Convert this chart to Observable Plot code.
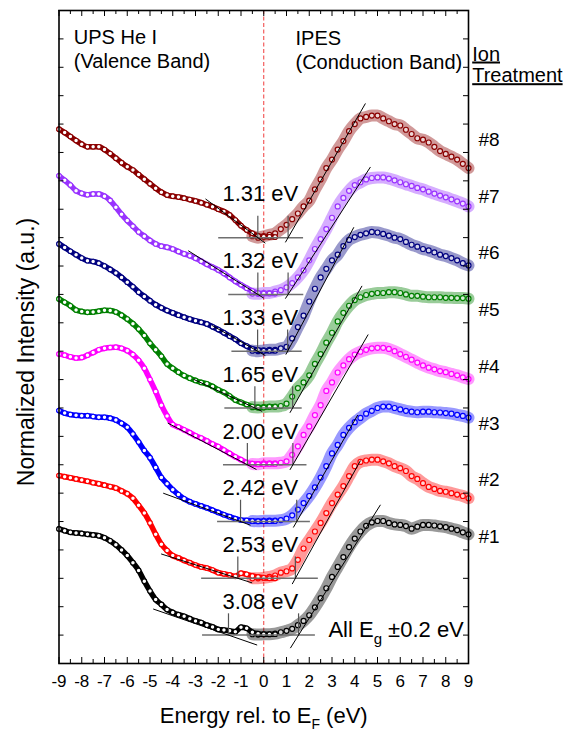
<!DOCTYPE html>
<html><head><meta charset="utf-8">
<script src="https://cdn.jsdelivr.net/npm/d3@7"></script>
<script src="https://cdn.jsdelivr.net/npm/@observablehq/plot@0.6"></script>
<style>
html,body{margin:0;padding:0;background:#fff;}
#chart{width:572px;height:732px;}
</style></head><body><div id="chart"></div>
<script>
// Energy grids (eV rel. to E_F)
const valenceE = [-9,-8.75,-8.5,-8.25,-8,-7.75,-7.5,-7.25,-7,-6.75,-6.5,-6.25,-6,-5.75,-5.5,-5.25,-5,-4.75,-4.5,-4.25,-4,-3.75,-3.5,-3.25,-3,-2.75,-2.5,-2.25,-2,-1.75,-1.5,-1.25,-1,-0.75,-0.5,-0.25,0,0.25,0.5];
const conductionE = [-0.5,-0.25,0,0.25,0.5,0.75,1,1.25,1.5,1.75,2,2.25,2.5,2.75,3,3.25,3.5,3.75,4,4.25,4.5,4.75,5,5.25,5.5,5.75,6,6.25,6.5,6.75,7,7.25,7.5,7.75,8,8.25,8.5,8.75,9];

// UPS (valence band) normalized intensities, offset stacked (#1..#8)
const vb1 = [4.74,4.68,4.62,4.60,4.58,4.55,4.53,4.50,4.43,4.32,4.18,4.00,3.80,3.55,3.28,2.90,2.55,2.25,2.08,1.90,1.80,1.72,1.66,1.58,1.50,1.44,1.35,1.29,1.20,1.18,1.15,1.12,1.28,1.24,1.10,1.05,1.03,1.03,1.03];
const vb2 = [6.62,6.58,6.54,6.50,6.46,6.42,6.37,6.33,6.28,6.23,6.18,6.08,5.98,5.82,5.57,5.30,4.95,4.55,4.20,3.98,3.80,3.72,3.63,3.55,3.47,3.40,3.36,3.29,3.20,3.16,3.12,3.07,3.18,3.14,3.08,3.05,3.02,3.00,3.00];
const vb3 = [8.91,8.82,8.77,8.74,8.73,8.73,8.70,8.67,8.67,8.64,8.58,8.46,8.32,8.08,7.80,7.50,7.25,6.90,6.55,6.33,6.12,5.95,5.80,5.70,5.62,5.55,5.48,5.40,5.32,5.24,5.17,5.10,5.05,5.04,5.02,5.01,5.01,5.01,5.02];
const vb4 = [10.90,10.86,10.80,10.76,10.78,10.86,10.95,11.05,11.10,11.13,11.14,11.10,11.02,10.88,10.68,10.40,10.00,9.58,9.10,8.72,8.42,8.33,8.23,8.13,8.02,7.94,7.84,7.73,7.64,7.52,7.40,7.28,7.18,7.08,7.04,7.02,7.02,7.03,7.03];
const vb5 = [12.84,12.72,12.60,12.45,12.40,12.37,12.38,12.41,12.44,12.43,12.38,12.27,12.13,11.97,11.78,11.55,11.28,11.05,10.82,10.55,10.40,10.26,10.14,10.05,9.97,9.90,9.85,9.76,9.64,9.55,9.42,9.28,9.20,9.12,9.05,9.02,9.02,9.04,9.04];
const vb6 = [14.78,14.65,14.52,14.40,14.28,14.19,14.16,14.10,14.00,13.88,13.75,13.60,13.43,13.27,13.08,12.93,12.78,12.64,12.53,12.43,12.35,12.27,12.20,12.13,12.07,12.02,11.96,11.86,11.76,11.65,11.53,11.42,11.28,11.18,11.08,11.04,11.02,11.02,11.02];
const vb7 = [17.18,17.02,16.85,16.65,16.56,16.51,16.54,16.54,16.46,16.31,16.07,15.82,15.60,15.40,15.20,15.05,14.90,14.78,14.70,14.66,14.60,14.51,14.43,14.36,14.27,14.17,14.06,13.96,13.86,13.74,13.60,13.46,13.34,13.22,13.12,13.05,13.03,13.03,13.03];
const vb8 = [18.82,18.70,18.56,18.42,18.29,18.20,18.20,18.20,18.10,17.96,17.80,17.64,17.50,17.38,17.22,17.06,16.90,16.74,16.60,16.50,16.46,16.43,16.39,16.34,16.29,16.23,16.16,16.09,16.00,15.92,15.80,15.62,15.42,15.27,15.15,15.06,15.03,15.03,15.02];

// IPES (conduction band) normalized intensities
const cb1 = [1.03,1.02,1.03,1.03,1.05,1.10,1.15,1.22,1.35,1.50,1.70,1.98,2.30,2.65,3.05,3.40,3.75,4.10,4.40,4.65,4.85,4.97,5.02,5.02,4.95,4.90,4.88,4.84,4.75,4.82,4.88,4.88,4.86,4.83,4.80,4.75,4.70,4.62,4.55];
const cb2 = [3.00,3.00,3.02,3.05,3.10,3.20,3.25,3.35,3.65,4.05,4.35,4.65,4.95,5.30,5.65,5.95,6.25,6.60,6.95,7.10,7.15,7.18,7.18,7.12,7.05,6.95,6.88,6.78,6.60,6.50,6.35,6.22,6.15,6.08,6.05,6.00,5.95,5.90,5.82];
const cb3 = [5.02,5.01,5.02,5.03,5.03,5.05,5.10,5.22,5.42,5.65,5.90,6.20,6.55,6.95,7.40,7.70,8.05,8.30,8.50,8.65,8.80,8.90,9.00,9.05,9.05,9.00,8.95,8.90,8.87,8.85,8.87,8.87,8.85,8.84,8.82,8.80,8.76,8.72,8.66];
const cb4 = [7.03,7.02,7.05,7.05,7.05,7.07,7.12,7.35,7.65,8.05,8.35,8.75,9.10,9.60,9.90,10.25,10.50,10.72,10.88,10.98,11.05,11.10,11.12,11.12,11.08,11.00,10.90,10.80,10.70,10.60,10.50,10.42,10.36,10.30,10.26,10.20,10.15,10.08,10.02];
const cb5 = [9.03,9.02,9.03,9.05,9.05,9.07,9.15,9.40,9.70,9.90,10.15,10.55,10.90,11.30,11.65,12.05,12.35,12.60,12.80,12.90,12.98,13.02,13.05,13.05,13.08,13.08,13.05,13.00,12.95,12.95,12.92,12.90,12.90,12.90,12.88,12.88,12.87,12.87,12.85];
const cb6 = [11.02,11.00,11.03,11.05,11.05,11.10,11.15,11.45,11.85,12.25,12.75,13.20,13.60,13.90,14.20,14.40,14.70,14.92,15.02,15.10,15.15,15.20,15.18,15.13,15.07,15.00,14.95,14.85,14.75,14.68,14.60,14.55,14.48,14.40,14.35,14.28,14.20,14.10,14.02];
const cb7 = [13.03,13.02,13.05,13.05,13.10,13.15,13.25,13.40,13.60,13.85,14.20,14.60,14.95,15.30,15.70,16.10,16.40,16.65,16.85,16.95,17.05,17.10,17.12,17.12,17.08,17.02,16.95,16.88,16.82,16.75,16.70,16.62,16.55,16.48,16.42,16.35,16.28,16.20,16.10];
const cb8 = [15.05,15.00,15.05,15.10,15.15,15.30,15.45,15.65,15.85,16.10,16.30,16.70,17.05,17.45,17.75,18.10,18.40,18.75,19.00,19.20,19.25,19.30,19.30,19.20,19.10,19.00,18.95,18.80,18.65,18.50,18.45,18.35,18.20,18.05,17.95,17.85,17.75,17.60,17.45];

// Sample annotations
const sampleNames = ["#1","#2","#3","#4","#5","#6","#7","#8"];
const gaps = [3.08, 2.53, 2.42, 2.00, 1.65, 1.33, 1.32, 1.31];
const baseline = [1, 3, 5, 7, 9, 11, 13, 15];
const vbm = [-1.55, -1.14, -1.02, -0.72, -0.39, -0.27, -0.26, -0.26];
const cbm = [1.53, 1.39, 1.45, 1.28, 1.27, 1.05, 1.07, 1.07];
const vbSlope = [-0.278, -0.255, -0.294, -0.42, -0.375, -0.453, -0.503, -0.593];
const cbSlope = [1.275, 1.45, 1.4, 1.386, 1.41, 1.5, 1.24, 1.39];
const vbFitRange = [[-4.86,-0.29],[-4.51,-0.51],[-4.42,-0.58],[-4.22,-0.32],[-3.08,-0.07],[-2.27,0.07],[-3.32,0.0],[-2.56,0.07]];
const cbFitRange = [[1.17,5.13],[1.25,4.25],[1.3,4.13],[1.15,4.59],[1.15,4.32],[0.97,3.96],[0.95,4.69],[0.95,4.47]];
const baselineRange = [[-2.69,2.27],[-2.73,2.4],[-2.03,2.05],[-1.77,1.9],[-1.71,1.69],[-1.4,1.69],[-1.54,1.76],[-1.98,1.75]];
const colors = ["#000000","#ff0000","#0000ff","#ff00ff","#008000","#000080","#9933ff","#8b0000"];

const xTicks = [-9,-8,-7,-6,-5,-4,-3,-2,-1,0,1,2,3,4,5,6,7,8,9];
const xMinorTicks = [-8.5,-7.5,-6.5,-5.5,-4.5,-3.5,-2.5,-1.5,-0.5,0.5,1.5,2.5,3.5,4.5,5.5,6.5,7.5,8.5];
const yTicks = [0,1,2,3,4,5,6,7,8,9,10,11,12,13,14,15,16,17,18,19,20,21,22,23];

const valence = [vb1,vb2,vb3,vb4,vb5,vb6,vb7,vb8];
const conduction = [cb1,cb2,cb3,cb4,cb5,cb6,cb7,cb8];

// layout
const W = 572, H = 732, mL = 58.5, mR = 104, mT = 10, mB = 69;
const frameW = W - mL - mR, frameH = H - mT - mB;

const marks = [];
marks.push(Plot.ruleX([0], {stroke: "#f03c3c", strokeWidth: 1, strokeDasharray: "4,2.5"}));

for (let i = 7; i >= 0; --i) {
  const c = colors[i];
  const vRows = valenceE.map((e, j) => ({E: e, I: valence[i][j]}));
  const cRows = conductionE.map((e, j) => ({E: e, I: conduction[i][j]}));
  marks.push(Plot.line(cRows, {x: "E", y: "I", stroke: c, strokeWidth: 12, strokeOpacity: 0.4, curve: "monotone-x"}));
  marks.push(Plot.dot(cRows, {x: "E", y: "I", r: 2.5, stroke: c, strokeWidth: 1.2, fill: "white", fillOpacity: 0.6}));
  marks.push(Plot.line(vRows, {x: "E", y: "I", stroke: c, strokeWidth: 5.5, curve: "monotone-x"}));
  marks.push(Plot.dot(vRows, {x: "E", y: "I", r: 2.3, stroke: c, strokeWidth: 1.1, fill: "white"}));
}

const idx = d3.range(8);
marks.push(Plot.ruleY(idx, {y: i => baseline[i], x1: i => baselineRange[i][0], x2: i => baselineRange[i][1], stroke: "#6f6f6f", strokeWidth: 1.5}));
const edgeRows = idx.flatMap(i => [{x: vbm[i], b: baseline[i]}, {x: cbm[i], b: baseline[i]}]);
marks.push(Plot.ruleX(edgeRows, {x: "x", y1: "b", y2: d => d.b + 0.75, stroke: "#555", strokeWidth: 1.2}));
const fitRows = idx.flatMap(i => [
  {x1: vbFitRange[i][0], x2: vbFitRange[i][1], y1: baseline[i] + vbSlope[i] * (vbFitRange[i][0] - vbm[i]), y2: baseline[i] + vbSlope[i] * (vbFitRange[i][1] - vbm[i])},
  {x1: cbFitRange[i][0], x2: cbFitRange[i][1], y1: baseline[i] + cbSlope[i] * (cbFitRange[i][0] - cbm[i]), y2: baseline[i] + cbSlope[i] * (cbFitRange[i][1] - cbm[i])}
]);
marks.push(Plot.link(fitRows, {x1: "x1", y1: "y1", x2: "x2", y2: "y2", stroke: "black", strokeWidth: 1}));

// gap labels
marks.push(Plot.text(idx, {x: () => -0.15, y: i => baseline[i] + (i === 7 ? 1.3 : 0.92), text: i => gaps[i].toFixed(2) + " eV", fontSize: 22, lineAnchor: "bottom", fill: "black"}));
// sample labels
marks.push(Plot.text(idx, {x: () => 9, y: i => baseline[i] + 3.45, text: i => sampleNames[i], textAnchor: "start", dx: 10, fontSize: 19, lineAnchor: "middle"}));

// ticks (inward)
marks.push(Plot.ruleX(xTicks, {x: d => d, insetTop: frameH - 6, stroke: "black", strokeWidth: 1}));
marks.push(Plot.ruleX(xMinorTicks, {x: d => d, insetTop: frameH - 4, stroke: "black", strokeWidth: 1}));
marks.push(Plot.ruleX(xTicks, {x: d => d, insetBottom: frameH - 6, stroke: "black", strokeWidth: 1}));
marks.push(Plot.ruleX(xMinorTicks, {x: d => d, insetBottom: frameH - 4, stroke: "black", strokeWidth: 1}));
marks.push(Plot.ruleY(yTicks, {y: d => d, insetRight: frameW - 5, stroke: "black", strokeWidth: 1}));
marks.push(Plot.ruleY(yTicks, {y: d => d, insetLeft: frameW - 5, stroke: "black", strokeWidth: 1}));
marks.push(Plot.frame({stroke: "black", strokeWidth: 1.6}));

// tick labels
marks.push(Plot.text(xTicks, {x: d => d, text: d => String(d), frameAnchor: "bottom", dy: 23.7, lineAnchor: "bottom", fontSize: 17}));

// axis titles & annotations
marks.push(Plot.text(["Energy rel. to EF (eV)"], {frameAnchor: "bottom", dy: 59.7, lineAnchor: "bottom", textAnchor: "middle", fontSize: 22}));
marks.push(Plot.text(["Normalized Intensity (a.u.)"], {frameAnchor: "left", dx: -25.2, dy: 15, rotate: -90, lineAnchor: "bottom", textAnchor: "middle", fontSize: 23}));
marks.push(Plot.text(["UPS He I\n(Valence Band)"], {frameAnchor: "top-left", dx: 14.8, dy: 57.3, lineAnchor: "bottom", textAnchor: "start", fontSize: 20, lineHeight: 1.18}));
marks.push(Plot.text(["IPES\n(Conduction Band)"], {frameAnchor: "top-left", dx: 236.5, dy: 58.3, lineAnchor: "bottom", textAnchor: "start", fontSize: 20, lineHeight: 1.17}));
marks.push(Plot.text(["Ion\nTreatment"], {frameAnchor: "top-right", dx: 3.7, dy: 71.7, lineAnchor: "bottom", textAnchor: "start", fontSize: 20, lineHeight: 1.085}));
marks.push(Plot.text(["All Eg ±0.2 eV"], {frameAnchor: "bottom-right", dx: -4.7, dy: -27, lineAnchor: "bottom", textAnchor: "end", fontSize: 22}));

const chart = Plot.plot({
  width: W, height: H,
  marginLeft: mL, marginRight: mR, marginTop: mT, marginBottom: mB,
  x: {domain: [-9, 9], axis: null},
  y: {domain: [0, 23], axis: null},
  style: {fontFamily: "'Liberation Sans', Arial, sans-serif", fontSize: "17px", background: "white", color: "black", overflow: "visible"},
  marks
});
document.getElementById("chart").appendChild(chart);

// subscripts and underlines as real text
const svg = d3.select(chart);
function subscript(full, pre, sub, post, shift, size) {
  svg.selectAll("text").filter(function () { return this.textContent === full; }).each(function () {
    const t = d3.select(this);
    t.text(null);
    t.append("tspan").text(pre);
    t.append("tspan").attr("dy", shift).attr("font-size", size).text(sub);
    t.append("tspan").attr("dy", -shift).text(post);
  });
}
subscript("Energy rel. to EF (eV)", "Energy rel. to E", "F", " (eV)", 6, 14);
subscript("All Eg ±0.2 eV", "All E", "g", " ±0.2 eV", 7, 15);
svg.selectAll("tspan").filter(function () { return this.textContent === "Ion" || this.textContent === "Treatment"; })
  .style("text-decoration", "underline");
</script></body></html>
